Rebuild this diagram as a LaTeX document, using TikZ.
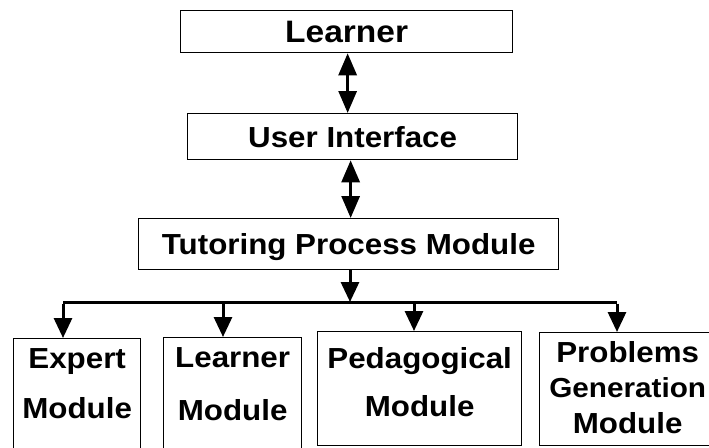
\documentclass[tikz,border=0pt]{standalone}
\usepackage{fontspec}
\setmainfont{Liberation Sans}[FakeStretch=1.08]
\usetikzlibrary{arrows.meta}
\begin{document}
\begin{tikzpicture}[x=1pt,y=-1pt,
  box/.style={draw=black, line width=1.3pt, rectangle, inner sep=0pt, anchor=north west,
    font=\bfseries\fontsize{29}{34}\selectfont, text depth=0pt},
  lbl/.style={inner sep=0pt, align=center, anchor=north},
  conn/.style={line width=3pt, line join=miter},
  tip/.style={-{Triangle[width=18pt,length=20pt]}},
  dbl/.style={{Triangle[width=18pt,length=22pt]}-{Triangle[width=18pt,length=22pt]}},
]
\useasboundingbox (0,0) rectangle (709,447);
\clip (0,0) rectangle (709,447);

% top chain
\node[box, minimum width=332pt, minimum height=42pt, font=\bfseries\fontsize{31}{34}\selectfont] (learner) at (180,10) {Learner};
\node[box, minimum width=330pt, minimum height=46pt] (ui) at (187,113) {User Interface};
\node[box, minimum width=420pt, minimum height=51pt] (tpm) at (138,218) {Tutoring Process Module};

% bottom boxes
\node[box, minimum width=127pt, minimum height=130pt] (expert) at (13,338) {};
\node[box, minimum width=138pt, minimum height=130pt] (lmod) at (163,337) {};
\node[box, minimum width=204pt, minimum height=114pt] (ped) at (317,331) {};
\node[box, minimum width=184pt, minimum height=113pt] (prob) at (539,332) {};

\node[lbl, font=\bfseries\fontsize{29}{50}\selectfont] (expertT) at ([yshift=-10pt]expert.north) {Expert\\Module};
\node[lbl, font=\bfseries\fontsize{29}{53}\selectfont] (lmodT) at ([yshift=-10pt]lmod.north) {Learner\\Module};
\node[lbl, font=\bfseries\fontsize{29}{48}\selectfont] (pedT) at ([yshift=-16pt]ped.north) {Pedagogical\\Module};
\node[lbl, font=\bfseries\fontsize{29}{35.5}\selectfont] (probT) at ([xshift=-4pt,yshift=-9pt]prob.north) {Problems\\{\fontsize{27.5}{35.5}\selectfont Generation}\\Module};

% connectors
\coordinate (busL) at (63,302);
\coordinate (busR) at (617,302);
\coordinate (d2) at (223,302);
\coordinate (d3) at (414,302);
\coordinate (dTop) at (350,302);

\draw[conn, dbl] ([xshift=1pt]learner.south) -- ([xshift=1pt]learner.south |- ui.north);
\draw[conn, dbl] ([xshift=2pt]tpm.north |- ui.south) -- ([xshift=2pt]tpm.north);
\draw[conn, tip] (dTop |- tpm.south) -- (dTop);
\draw[conn] (busL) -- (busR);
\draw[conn, tip] ([yshift=-1.5pt]busL) -- (busL |- expert.north);
\draw[conn, tip] ([yshift=-1.5pt]busR) -- (busR |- prob.north);
\draw[conn, tip] (d2) -- (d2 |- lmod.north);
\draw[conn, tip] (d3) -- (d3 |- ped.north);
\end{tikzpicture}
\end{document}
